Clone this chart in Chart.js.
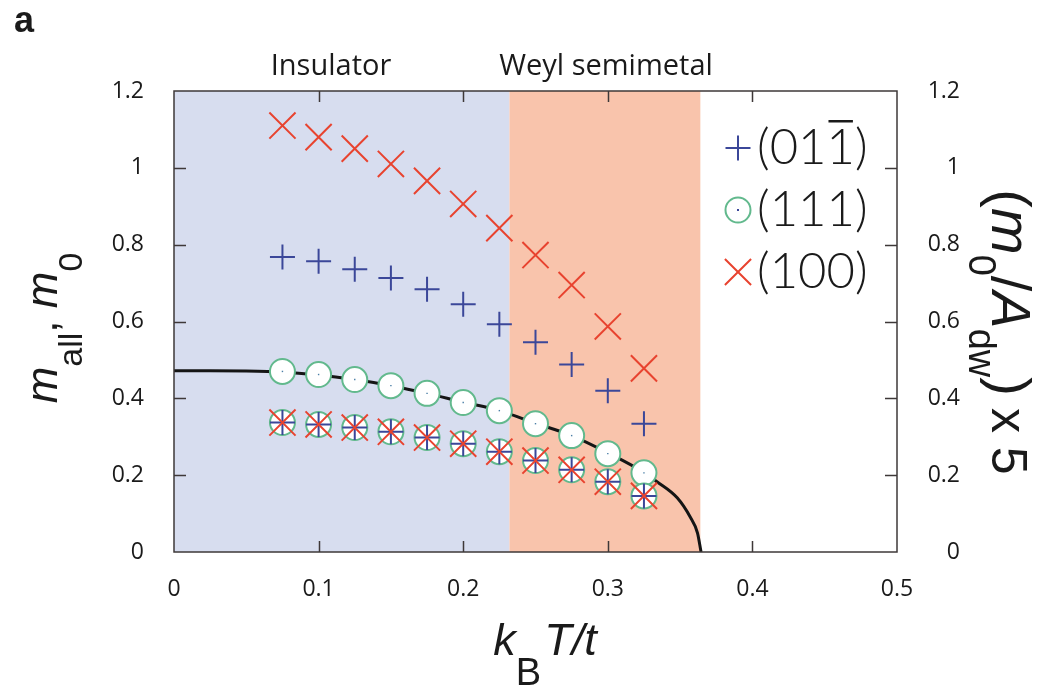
<!DOCTYPE html>
<html>
<head>
<meta charset="utf-8">
<script src="https://cdn.jsdelivr.net/npm/chart.js@4.4.1/dist/chart.umd.min.js"></script>
<style>
  html, body { margin: 0; padding: 0; background: #fff; }
  #wrap { position: relative; width: 1048px; height: 687px; }
</style>
</head>
<body>
<div id="wrap"><canvas id="chart"></canvas></div>
<script>
// temperatures of the simulation runs (k_B T / t)
const temps = [0.075, 0.1, 0.125, 0.15, 0.175, 0.2, 0.225, 0.25, 0.275, 0.3, 0.325];

// m_all for each domain-wall orientation
const mAll011 = [0.768, 0.757, 0.736, 0.713, 0.684, 0.645, 0.593, 0.546, 0.488, 0.420, 0.334];
const mAll111 = [0.470, 0.462, 0.449, 0.433, 0.413, 0.389, 0.368, 0.334, 0.303, 0.256, 0.206];
const mAll100 = [1.110, 1.080, 1.050, 1.010, 0.966, 0.906, 0.843, 0.773, 0.695, 0.587, 0.478];

// (m0 / A_dw) x 5 — the three orientations sit on top of each other
const m0Scaled011 = [0.337, 0.332, 0.324, 0.313, 0.298, 0.282, 0.261, 0.238, 0.214, 0.183, 0.146];
const m0Scaled111 = [0.337, 0.332, 0.324, 0.313, 0.298, 0.282, 0.261, 0.238, 0.214, 0.183, 0.146];
const m0Scaled100 = [0.337, 0.332, 0.324, 0.313, 0.298, 0.282, 0.261, 0.238, 0.214, 0.183, 0.146];

// bulk m_0 (solid line)
const curveT = [0, 0.025, 0.05, 0.075, 0.1, 0.125, 0.15, 0.175, 0.2, 0.225, 0.25, 0.275, 0.3, 0.325, 0.334, 0.348, 0.357, 0.362, 0.3645];
const curveM = [0.472, 0.472, 0.471, 0.468, 0.461, 0.449, 0.433, 0.413, 0.390, 0.368, 0.335, 0.303, 0.258, 0.207, 0.183, 0.141, 0.091, 0.050, 0];

// phase regions along the temperature axis
const phaseNames = ['Insulator', 'Weyl semimetal'];
const phaseFrom = [0, 0.232];
const phaseTo = [0.232, 0.364];
const phaseColors = ['#d7ddef', '#f9c4ac'];

const xTicks = [0, 0.1, 0.2, 0.3, 0.4, 0.5];
const xTickLabels = ['0', '0.1', '0.2', '0.3', '0.4', '0.5'];
const yTicks = [0, 0.2, 0.4, 0.6, 0.8, 1.0, 1.2];
const yTickLabels = ['0', '0.2', '0.4', '0.6', '0.8', '1', '1.2'];

const BLUE = '#3b4799';
const GREEN = '#62b98d';
const RED = '#e8432f';
const FRAME = '#3e3838';

const pts = (xs, ...ys) => ys.flatMap(arr => arr.map((v, i) => ({ x: xs[i], y: v })));

function drawRich(ctx, parts, x, y, angle) {
  ctx.save();
  ctx.translate(x, y);
  ctx.rotate(angle);
  let total = 0;
  for (const p of parts) {
    ctx.font = p.font;
    p.w = ctx.measureText(p.t).width + (p.gap || 0);
    total += p.w;
  }
  let cx = -total / 2;
  ctx.textAlign = 'left';
  ctx.textBaseline = 'alphabetic';
  ctx.fillStyle = '#1a1a1a';
  for (const p of parts) {
    ctx.font = p.font;
    ctx.fillText(p.t, cx, p.dy || 0);
    cx += p.w;
  }
  ctx.restore();
}

// coloured phase bands behind the data
const phaseBands = {
  id: 'phaseBands',
  beforeDatasetsDraw(chart) {
    const { ctx, chartArea: a, scales: { x } } = chart;
    ctx.save();
    phaseNames.forEach((name, i) => {
      const x0 = x.getPixelForValue(phaseFrom[i]);
      const x1 = x.getPixelForValue(phaseTo[i]);
      ctx.fillStyle = phaseColors[i];
      ctx.fillRect(x0, a.top, x1 - x0, a.bottom - a.top);
    });
    ctx.restore();
  }
};

// frame, inward ticks, titles, legend
const decorations = {
  id: 'decorations',
  afterDraw(chart) {
    const { ctx, chartArea: a, scales: { x, y } } = chart;
    ctx.save();
    ctx.strokeStyle = FRAME;
    ctx.lineWidth = 1.5;
    ctx.strokeRect(a.left, a.top, a.right - a.left, a.bottom - a.top);
    ctx.beginPath();
    xTicks.slice(1, -1).forEach(v => {
      const px = Math.round(x.getPixelForValue(v)) + 0.5;
      ctx.moveTo(px, a.bottom); ctx.lineTo(px, a.bottom - 11);
      ctx.moveTo(px, a.top); ctx.lineTo(px, a.top + 11);
    });
    yTicks.slice(1, -1).forEach(v => {
      const py = Math.round(y.getPixelForValue(v)) + 0.5;
      ctx.moveTo(a.left, py); ctx.lineTo(a.left + 12, py);
      ctx.moveTo(a.right, py); ctx.lineTo(a.right - 12, py);
    });
    ctx.stroke();

    // phase names above the frame
    ctx.fillStyle = '#1a1a1a';
    ctx.font = '29px "Open Sans"';
    ctx.textAlign = 'center';
    ctx.textBaseline = 'alphabetic';
    ctx.fillText(phaseNames[0], 331, 75);
    ctx.fillText(phaseNames[1], 606, 75);

    // panel letter
    ctx.textAlign = 'left';
    ctx.font = 'bold 36px "Liberation Sans"';
    ctx.fillText('a', 14, 32);

    // axis titles
    const F = '"Liberation Sans"';
    drawRich(ctx, [
      { t: 'm', font: `italic 44px ${F}` },
      { t: 'all', font: `34px ${F}`, dy: 25 },
      { t: ', ', font: `44px ${F}` },
      { t: 'm', font: `italic 44px ${F}` },
      { t: '0', font: `34px ${F}`, dy: 25 }
    ], 57, 328, -Math.PI / 2);

    drawRich(ctx, [
      { t: '(', font: `56px ${F}` },
      { t: 'm', font: `italic 56px ${F}` },
      { t: '0', font: `38px ${F}`, dy: 23 },
      { t: '/', font: `56px ${F}` },
      { t: 'A', font: `italic 56px ${F}` },
      { t: 'dw', font: `38px ${F}`, dy: 23 },
      { t: ')', font: `56px ${F}`, gap: 12 },
      { t: 'x 5', font: `50px ${F}` }
    ], 992, 332, Math.PI / 2);

    drawRich(ctx, [
      { t: 'k', font: `italic 45px ${F}` },
      { t: 'B', font: `38px ${F}`, dy: 30, gap: 3 },
      { t: 'T/t', font: `italic 45px ${F}` }
    ], 545, 655, 0);

    // legend
    const entries = [
      { style: 'cross', color: BLUE, r: 12.5, label: '(011)', bar: true },
      { style: 'circle', color: GREEN, r: 12.5, label: '(111)' },
      { style: 'crossRot', color: RED, r: 18.5, label: '(100)' }
    ];
    ctx.font = '300 49px Lato';
    ctx.textBaseline = 'middle';
    entries.forEach((e, i) => {
      const cy = 148 + i * 62;
      const mx = 738;
      ctx.lineWidth = 2;
      ctx.strokeStyle = e.color;
      ctx.fillStyle = '#fff';
      Chart.helpers.drawPoint(ctx, { pointStyle: e.style, radius: e.r, borderWidth: 2 }, mx, cy);
      if (e.style === 'circle') {
        ctx.fillStyle = BLUE;
        ctx.fillRect(mx - 1, cy - 1, 2, 2);
      }
      ctx.fillStyle = '#1a1a1a';
      ctx.fillText(e.label, 757, cy);
      if (e.bar) {
        const before = ctx.measureText('(01').width;
        const one = ctx.measureText('1').width;
        ctx.fillRect(757 + before + 2, cy - 28, one - 4, 2.5);
      }
    });
    ctx.restore();
  }
};

new Chart(document.getElementById('chart'), {
  type: 'scatter',
  data: {
    datasets: [
      {
        type: 'line', label: 'm0', data: pts(curveT, curveM),
        borderColor: '#151515', borderWidth: 3, pointRadius: 0,
        cubicInterpolationMode: 'monotone', order: 5
      },
      {
        label: '(111)', data: pts(temps, mAll111, m0Scaled111),
        pointStyle: 'circle', pointRadius: 12.5, pointBorderWidth: 2,
        borderColor: GREEN, backgroundColor: '#fff', order: 4
      },
      {
        label: '(111) centre', data: pts(temps, mAll111, m0Scaled111),
        pointStyle: 'rect', pointRadius: 1, pointBorderWidth: 0,
        borderColor: BLUE, backgroundColor: '#4b7fa6', order: 3
      },
      {
        label: '(011)', data: pts(temps, mAll011, m0Scaled011),
        pointStyle: 'cross', pointRadius: 12.5, pointBorderWidth: 2,
        borderColor: BLUE, backgroundColor: BLUE, order: 2
      },
      {
        label: '(100)', data: pts(temps, mAll100, m0Scaled100),
        pointStyle: 'crossRot', pointRadius: 18.5, pointBorderWidth: 2,
        borderColor: RED, backgroundColor: RED, order: 1
      }
    ]
  },
  options: {
    responsive: true,
    maintainAspectRatio: false,
    animation: false,
    events: [],
    layout: { padding: { top: 91, right: 88, left: 0, bottom: 0 } },
    plugins: { legend: { display: false }, tooltip: { enabled: false } },
    scales: {
      x: {
        type: 'linear', min: 0, max: 0.5,
        afterBuildTicks: s => { s.ticks = xTicks.map(v => ({ value: v })); },
        afterFit: s => { s.height = 135; },
        grid: { display: false }, border: { display: false },
        ticks: {
          padding: 16, color: '#1a1a1a', maxRotation: 0,
          font: { family: 'Open Sans', size: 23 },
          callback: (v, i) => xTickLabels[i]
        }
      },
      y: {
        type: 'linear', position: 'left', min: 0, max: 1.2,
        afterBuildTicks: s => { s.ticks = yTicks.map(v => ({ value: v })); },
        afterFit: s => { s.width = 174; },
        grid: { display: false }, border: { display: false },
        ticks: {
          padding: 22, color: '#1a1a1a',
          font: { family: 'Open Sans', size: 23 },
          callback: (v, i) => yTickLabels[i]
        }
      },
      y2: {
        type: 'linear', position: 'right', min: 0, max: 1.2,
        afterBuildTicks: s => { s.ticks = yTicks.map(v => ({ value: v })); },
        afterFit: s => { s.width = 63; },
        grid: { display: false }, border: { display: false },
        ticks: {
          padding: 20, color: '#1a1a1a', crossAlign: 'far',
          font: { family: 'Open Sans', size: 23 },
          callback: (v, i) => yTickLabels[i]
        }
      }
    }
  },
  plugins: [phaseBands, decorations]
});
</script>
</body>
</html>
